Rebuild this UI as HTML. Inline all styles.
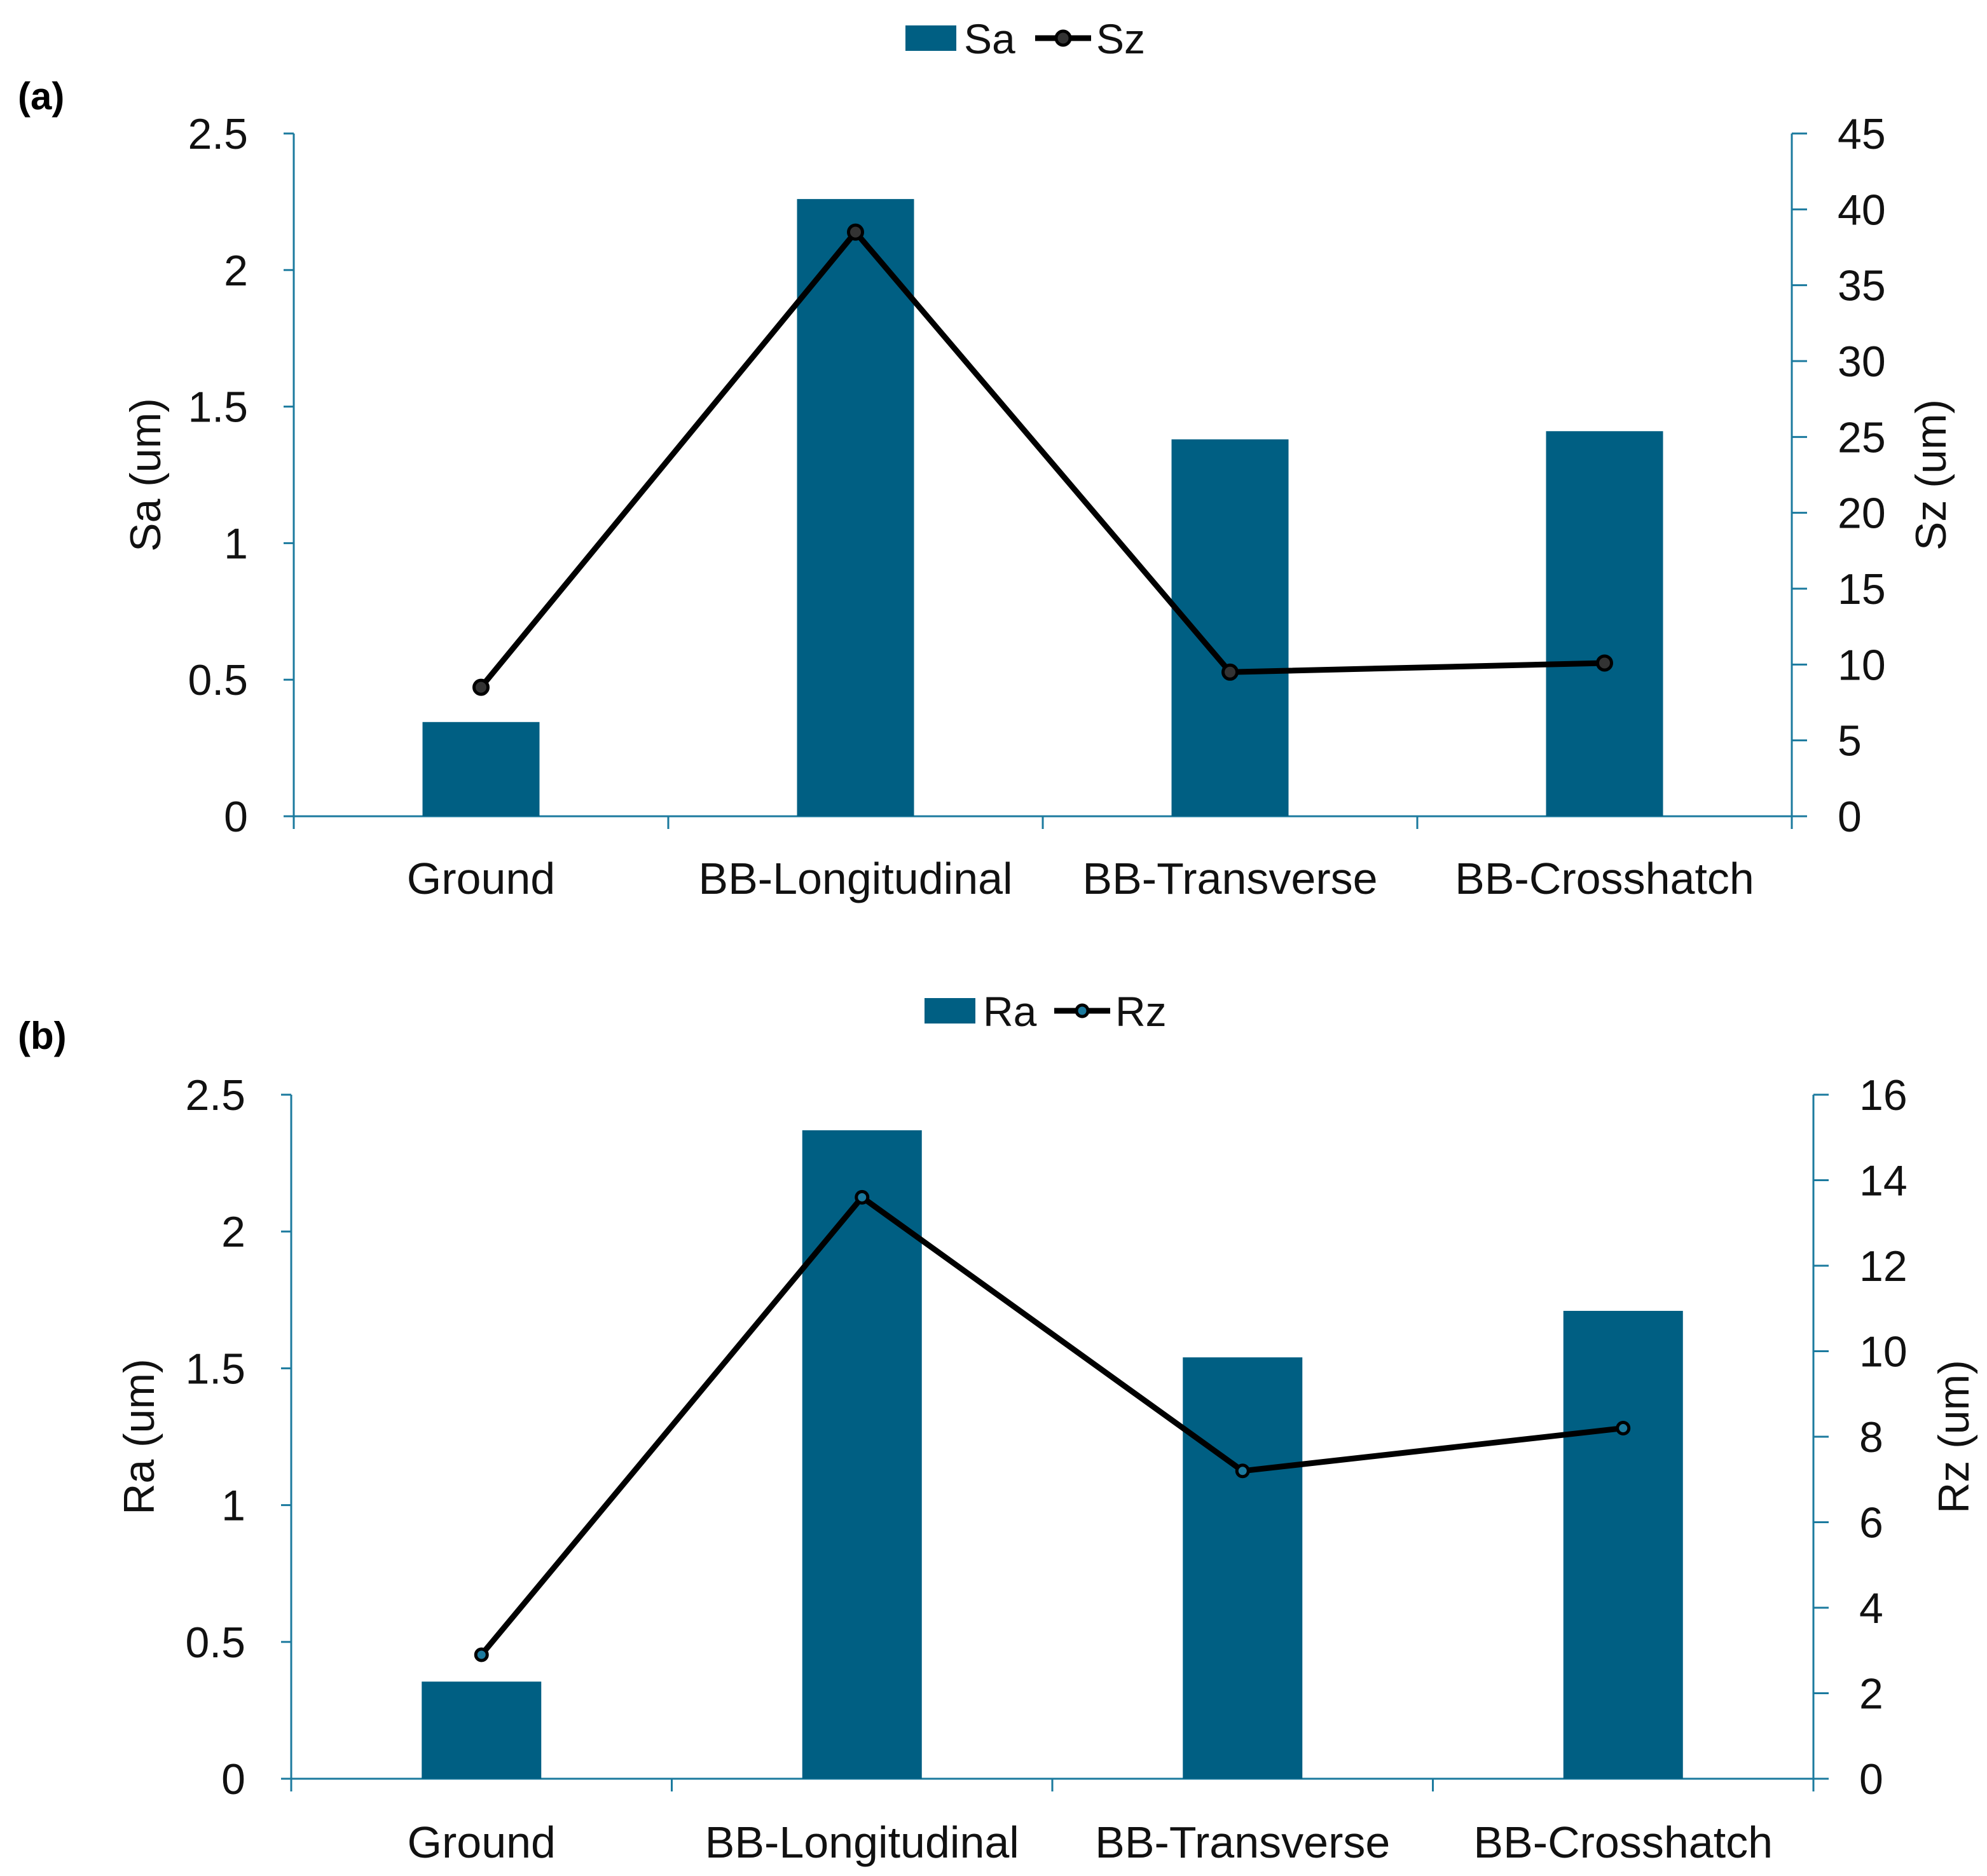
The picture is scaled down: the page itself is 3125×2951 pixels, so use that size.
<!DOCTYPE html>
<html><head><meta charset="utf-8"><style>html,body{margin:0;padding:0;background:#fff}svg{display:block}</style></head>
<body>
<svg xmlns="http://www.w3.org/2000/svg" width="3125" height="2951" viewBox="0 0 1562.5 1475.5" font-family="Liberation Sans, sans-serif">
<g id="ga"></g>
<g id="gb"></g>
</svg>
<script>
const categories = ["Ground","BB-Longitudinal","BB-Transverse","BB-Crosshatch"];
const saValues = [0.345, 2.26, 1.38, 1.41];
const szValues = [8.5, 38.5, 9.5, 10.1];
const raValues = [0.355, 2.37, 1.54, 1.71];
const rzValues = [2.9, 13.6, 7.2, 8.2];
const leftTicks = [0, 0.5, 1, 1.5, 2, 2.5];
const szTicks = [0,5,10,15,20,25,30,35,40,45];
const rzTicks = [0,2,4,6,8,10,12,14,16];

const NS="http://www.w3.org/2000/svg";
function mk(parent, tag, attrs, text){
  const e=document.createElementNS(NS,tag);
  for(const k in attrs) e.setAttribute(k,attrs[k]);
  if(text!==undefined) e.textContent=text;
  parent.appendChild(e); return e;
}
const AX="#1b7a9e", BAR="#005f83";

function panel(g, cfg){
  const {x0,x1,y0,y1,bars,line,rTicks,rMax,lblL,lblR,barName,lineName,tag,tagY,legY,legX,mr,mfill,titleLX,titleRX,catY,bw} = cfg;
  const n=categories.length, step=(x1-x0)/n;
  const yL=v=>y0-(v/2.5)*(y0-y1);
  const yR=v=>y0-(v/rMax)*(y0-y1);
  const xc=i=>x0+step*(i+0.5);
  let e=mk(g,'line',{x1:x0,y1:y1,x2:x0,y2:y0,stroke:AX,'stroke-width':1.5});
   
  e=mk(g,'line',{x1:x1,y1:y1,x2:x1,y2:y0,stroke:AX,'stroke-width':1.5});
   
  e=mk(g,'line',{x1:x0,y1:y0,x2:x1,y2:y0,stroke:AX,'stroke-width':1.5});
   
  leftTicks.forEach(t=>{
    mk(g,'line',{x1:x0-8,y1:yL(t),x2:x0,y2:yL(t),stroke:AX,'stroke-width':1.5});
    const l=mk(g,'text',{x:x0-36,y:yL(t)+12,'font-size':34,'text-anchor':'end',fill:'#111'},String(t));
     
  });
  rTicks.forEach(t=>{
    mk(g,'line',{x1:x1,y1:yR(t),x2:x1+12,y2:yR(t),stroke:AX,'stroke-width':1.5});
    const l=mk(g,'text',{x:x1+36,y:yR(t)+12,'font-size':34,fill:'#111'},String(t));
     
  });
  for(let i=0;i<=n;i++) mk(g,'line',{x1:x0+step*i,y1:y0,x2:x0+step*i,y2:y0+10,stroke:AX,'stroke-width':1.5});
  categories.forEach((c,i)=>{
    const l=mk(g,'text',{x:xc(i),y:catY,'font-size':35,'text-anchor':'middle',fill:'#111'},c);
     
  });
  bars.forEach((v,i)=>{
    const b=mk(g,'rect',{x:xc(i)-bw/2,y:yL(v),width:bw,height:y0-yL(v),fill:BAR});
     
  });
  const pts=line.map((v,i)=>xc(i)+','+yR(v)).join(' ');
  const pl=mk(g,'polyline',{points:pts,fill:'none',stroke:'#000','stroke-width':4.5,'stroke-linejoin':'round'});
   
  line.forEach((v,i)=>{
    const m=mk(g,'circle',{cx:xc(i),cy:yR(v),r:mr,fill:mfill,stroke:'#000','stroke-width':2.5});
     
  });
  let t=mk(g,'text',{x:0,y:0,'font-size':34,'text-anchor':'middle',fill:'#111',transform:`translate(${titleLX},${(y0+y1)/2}) rotate(-90)`},lblL);
   
  t=mk(g,'text',{x:0,y:0,'font-size':34,'text-anchor':'middle',fill:'#111',transform:`translate(${titleRX},${(y0+y1)/2}) rotate(-90)`},lblR);
   
  t=mk(g,'text',{x:14,y:tagY,'font-size':30,'font-weight':'bold',fill:'#000'},tag);
   
  const lg=mk(g,'g',{});
   
  mk(lg,'rect',{x:legX,y:legY-10,width:40,height:20,fill:BAR});
  mk(lg,'text',{x:legX+46,y:legY+12,'font-size':33,fill:'#111'},barName);
  const lx=legX+102;
  mk(lg,'line',{x1:lx,y1:legY,x2:lx+44,y2:legY,stroke:'#000','stroke-width':4.5});
  mk(lg,'circle',{cx:lx+22,cy:legY,r:mr,fill:mfill,stroke:'#000','stroke-width':2.5});
  mk(lg,'text',{x:lx+48,y:legY+12,'font-size':33,fill:'#111'},lineName);
}
panel(document.getElementById('ga'),{x0:231,x1:1409,y0:642,y1:105,bars:saValues,line:szValues,rTicks:szTicks,rMax:45,
  lblL:'Sa (um)',lblR:'Sz (um)',barName:'Sa',lineName:'Sz',tag:'(a)',tagY:86,legY:30,legX:712,mr:5.5,mfill:'#333',
  titleLX:126,titleRX:1530,catY:703,bw:92});
panel(document.getElementById('gb'),{x0:229,x1:1426,y0:1399,y1:861,bars:raValues,line:rzValues,rTicks:rzTicks,rMax:16,
  lblL:'Ra (um)',lblR:'Rz (um)',barName:'Ra',lineName:'Rz',tag:'(b)',tagY:825,legY:795,legX:727,mr:4.5,mfill:'#1b7a9e',
  titleLX:121,titleRX:1548,catY:1461,bw:94});
</script>
</body></html>
